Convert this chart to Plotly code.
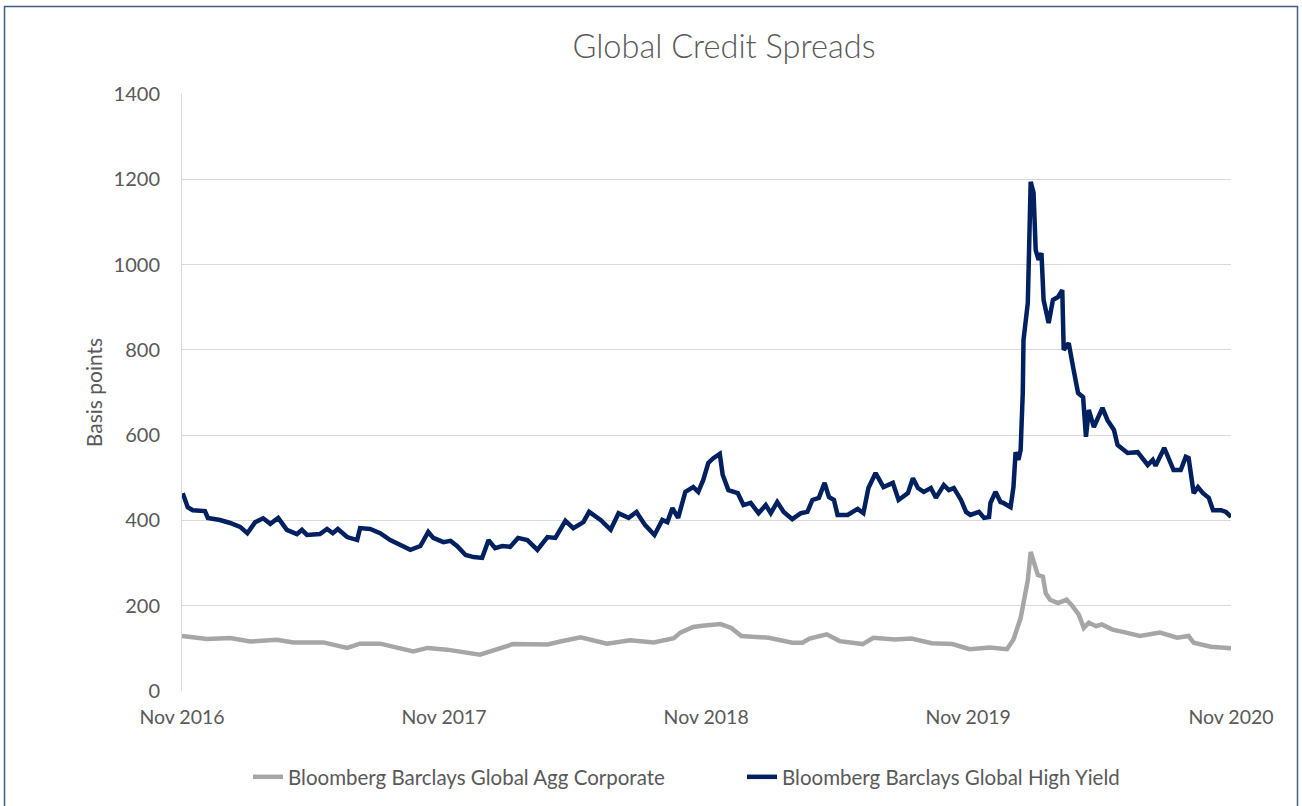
import plotly.graph_objects as go

# ---------------- data ----------------
hy_dates = [
    "2016-11-02", "2016-11-09", "2016-11-16", "2016-12-03", "2016-12-07", "2016-12-24",
    "2017-01-07", "2017-01-21", "2017-01-31", "2017-02-11", "2017-02-22", "2017-03-04",
    "2017-03-15", "2017-03-27", "2017-04-10", "2017-04-17", "2017-04-24", "2017-05-12",
    "2017-05-22", "2017-05-30", "2017-06-06", "2017-06-19", "2017-07-03", "2017-07-07",
    "2017-07-21", "2017-08-04", "2017-08-18", "2017-09-01", "2017-09-15", "2017-09-29",
    "2017-10-10", "2017-10-17", "2017-10-31", "2017-11-10", "2017-11-19", "2017-12-01",
    "2017-12-12", "2017-12-24", "2018-01-02", "2018-01-11", "2018-01-21", "2018-02-01",
    "2018-02-12", "2018-02-25", "2018-03-11", "2018-03-25", "2018-04-05", "2018-04-19",
    "2018-04-30", "2018-05-14", "2018-05-22", "2018-06-07", "2018-06-21", "2018-07-02",
    "2018-07-16", "2018-07-27", "2018-08-08", "2018-08-21", "2018-09-01", "2018-09-08",
    "2018-09-15", "2018-09-23", "2018-10-03", "2018-10-14", "2018-10-21", "2018-10-28",
    "2018-11-04", "2018-11-11", "2018-11-20", "2018-11-24", "2018-12-02", "2018-12-15",
    "2018-12-23", "2019-01-02", "2019-01-13", "2019-01-23", "2019-01-30", "2019-02-08",
    "2019-02-17", "2019-03-01", "2019-03-13", "2019-03-22", "2019-03-29", "2019-04-07",
    "2019-04-15", "2019-04-21", "2019-04-28", "2019-05-03", "2019-05-17", "2019-05-31",
    "2019-06-08", "2019-06-15", "2019-06-25", "2019-07-06", "2019-07-19", "2019-07-27",
    "2019-08-09", "2019-08-16", "2019-08-23", "2019-08-31", "2019-09-10", "2019-09-17",
    "2019-09-28", "2019-10-05", "2019-10-12", "2019-10-22", "2019-10-29", "2019-11-04",
    "2019-11-16", "2019-11-23", "2019-11-30", "2019-12-02", "2019-12-09", "2019-12-16",
    "2019-12-20", "2019-12-30", "2020-01-03", "2020-01-06", "2020-01-10", "2020-01-13",
    "2020-01-16", "2020-01-17", "2020-01-23", "2020-01-27", "2020-01-31", "2020-02-03",
    "2020-02-07", "2020-02-11", "2020-02-14", "2020-02-21", "2020-02-27", "2020-03-05",
    "2020-03-11", "2020-03-13", "2020-03-20", "2020-03-26", "2020-04-02", "2020-04-09",
    "2020-04-13", "2020-04-17", "2020-04-24", "2020-05-06", "2020-05-13", "2020-05-22",
    "2020-05-27", "2020-06-10", "2020-06-24", "2020-07-08", "2020-07-15", "2020-07-19",
    "2020-07-31", "2020-08-13", "2020-08-23", "2020-08-30", "2020-09-03", "2020-09-10",
    "2020-09-16", "2020-09-23", "2020-10-01", "2020-10-07", "2020-10-18", "2020-10-25",
    "2020-11-01",
]
hy_values = [
    464, 431, 424, 422, 406, 401,
    394, 385, 370, 396, 405, 392,
    406, 378, 368, 378, 366, 368,
    380, 370, 380, 361, 354, 382,
    380, 370, 354, 342, 331, 340,
    373, 359, 349, 352, 340, 319,
    314, 312, 354, 335, 340, 338,
    359, 354, 331, 361, 359, 399,
    382, 396, 420, 401, 378, 417,
    406, 420, 389, 366, 401, 396,
    429, 406, 467, 478, 467, 495,
    535, 546, 556, 507, 471, 464,
    436, 441, 417, 436, 417, 443,
    420, 403, 417, 420, 448, 453,
    488, 455, 448, 413, 413, 427,
    417, 476, 511, 478, 488, 448,
    464, 499, 476, 467, 476, 453,
    483, 471, 476, 448, 420, 413,
    420, 406, 408, 441, 467, 443,
    441, 431, 478, 560, 542, 565,
    700, 823, 910, 1194, 1168, 1034,
    1011, 1027, 917, 863, 917, 924,
    940, 800, 816, 760, 699, 689,
    596, 659, 619, 664, 635, 612,
    577, 558, 560, 530, 542, 528,
    570, 518, 518, 549, 546, 464,
    478, 464, 453, 424, 424, 420,
    408,
]

agg_dates = [
    "2016-11-01", "2016-12-06", "2017-01-07", "2017-02-04", "2017-03-13", "2017-04-05",
    "2017-05-17", "2017-06-19", "2017-07-07", "2017-08-04", "2017-09-19", "2017-10-09",
    "2017-11-05", "2017-12-21", "2018-02-05", "2018-03-25", "2018-04-12", "2018-05-10",
    "2018-06-16", "2018-07-18", "2018-08-20", "2018-09-17", "2018-09-26", "2018-10-14",
    "2018-10-27", "2018-11-21", "2018-12-06", "2018-12-20", "2019-01-27", "2019-03-01",
    "2019-03-15", "2019-03-25", "2019-04-18", "2019-05-06", "2019-06-07", "2019-06-22",
    "2019-07-22", "2019-08-14", "2019-09-11", "2019-10-10", "2019-11-03", "2019-12-01",
    "2019-12-25", "2020-01-03", "2020-01-13", "2020-01-17", "2020-01-23", "2020-01-27",
    "2020-01-31", "2020-02-06", "2020-02-13", "2020-02-17", "2020-02-23", "2020-03-05",
    "2020-03-17", "2020-03-24", "2020-04-03", "2020-04-10", "2020-04-17", "2020-04-27",
    "2020-05-05", "2020-05-20", "2020-06-08", "2020-06-27", "2020-07-25", "2020-08-18",
    "2020-09-03", "2020-09-10", "2020-10-04", "2020-10-28", "2020-11-01",
]
agg_values = [
    129, 122, 124, 116, 120, 114,
    114, 101, 111, 111, 93, 101,
    97, 85, 110, 109, 116, 126,
    111, 119, 114, 124, 137, 150,
    153, 157, 148, 129, 125, 113,
    113, 123, 133, 117, 110, 125,
    121, 123, 112, 110, 98, 102,
    98, 121, 171, 206, 260, 326,
    306, 272, 268, 229, 214, 206,
    214, 202, 179, 148, 160, 152,
    156, 144, 137, 129, 137, 125,
    129, 113, 104, 102, 100,
]

series_names = ["Bloomberg Barclays Global Agg Corporate",
                "Bloomberg Barclays Global High Yield"]
x_tick_vals = ["2016-11-01", "2017-11-01", "2018-11-01", "2019-11-01", "2020-11-01"]
x_tick_text = ["Nov 2016", "Nov 2017", "Nov 2018", "Nov 2019", "Nov 2020"]
y_tick_vals = [0, 200, 400, 600, 800, 1000, 1200, 1400]

# ---------------- figure ----------------
TXT = "#595959"
FONT = "Lato"

fig = go.Figure()
fig.add_trace(go.Scatter(x=agg_dates, y=agg_values, mode="lines", name=series_names[0],
                         line=dict(color="#a6a6a6", width=4.5)))
fig.add_trace(go.Scatter(x=hy_dates, y=hy_values, mode="lines", name=series_names[1],
                         line=dict(color="#002060", width=4.5)))

fig.update_layout(
    width=1302, height=806,
    margin=dict(l=182, r=71, t=94, b=115),
    paper_bgcolor="white", plot_bgcolor="white",
    font=dict(family=FONT, size=20, color=TXT),
    title=dict(text="Global Credit Spreads", x=0.5167, xref="paper", xanchor="center",
               y=1 - 47 / 806, yref="container", yanchor="middle",
               font=dict(family=FONT, size=32.5, color=TXT, weight=300)),
    showlegend=True,
    legend=dict(orientation="h", x=248 / 1302, xref="container", xanchor="left",
                y=1 - 777 / 806, yref="container", yanchor="middle",
                entrywidth=449, entrywidthmode="pixels",
                font=dict(family=FONT, size=20.5, color=TXT), bgcolor="rgba(0,0,0,0)"),
    xaxis=dict(type="date", range=["2016-11-01", "2020-11-01"],
               tickvals=x_tick_vals, ticktext=x_tick_text,
               showgrid=False, zeroline=False, showline=False, ticks="",
               ticklabelstandoff=12, tickfont=dict(size=19.5, color=TXT)),
    yaxis=dict(range=[0, 1400], tickvals=y_tick_vals,
               showgrid=True, gridcolor="#d9d9d9", gridwidth=1,
               zeroline=False, showline=True, linecolor="#d9d9d9", linewidth=1,
               ticks="", ticklabelstandoff=17, tickfont=dict(size=20, color=TXT),
               title=dict(text="Basis points", standoff=5,
                          font=dict(size=21, color=TXT))),
)

# outer frame of the chart
fig.add_shape(type="rect", xref="paper", yref="paper",
              x0=-0.1692, x1=1.0634, y0=-0.25, y1=1.1466,
              line=dict(color="#3e5f82", width=1.5), fillcolor="rgba(0,0,0,0)",
              layer="below")

# remove the default page margin so the figure sits at the window origin
fig.write_html("out.html", config={"displayModeBar": False},
               post_script="document.body.style.margin='0px';")
